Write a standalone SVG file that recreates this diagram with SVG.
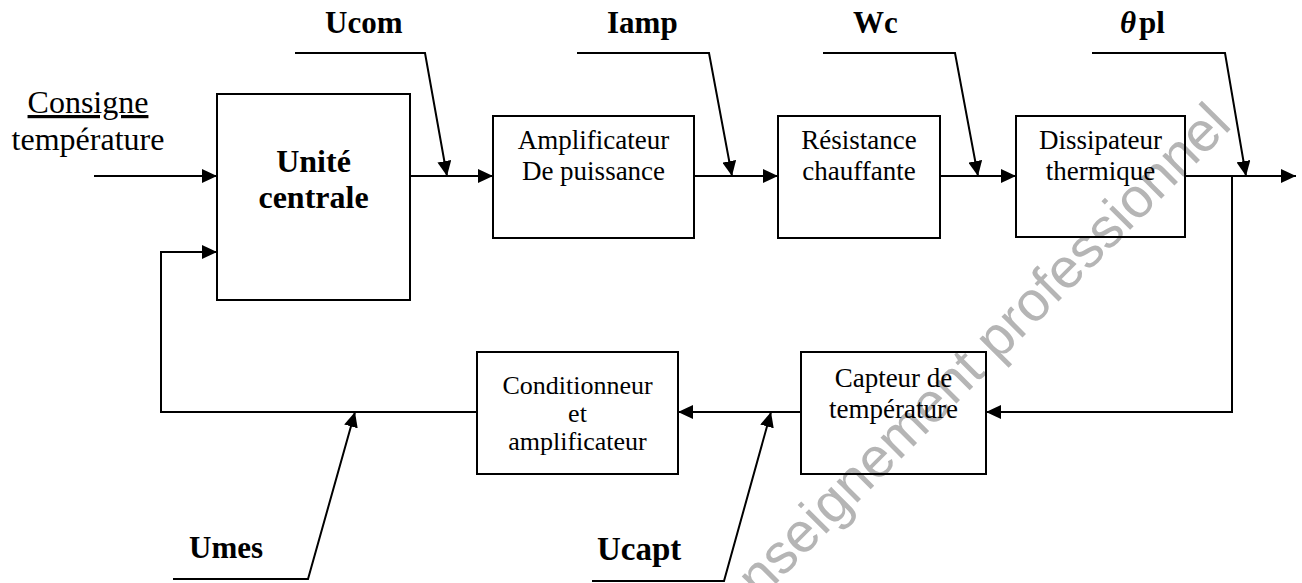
<svg xmlns="http://www.w3.org/2000/svg" width="1302" height="583" viewBox="0 0 1302 583">
<style>
.box{fill:none;stroke:#000;stroke-width:2}
.ln{fill:none;stroke:#000;stroke-width:2}
.t{font-family:"Liberation Serif","Times New Roman",serif;font-size:27px;fill:#000;text-anchor:middle}
.lb{font-family:"Liberation Serif","Times New Roman",serif;font-size:31px;font-weight:bold;fill:#000}
.wm{font-family:"Liberation Sans",Arial,sans-serif;font-size:56px;fill:#b5b5b5}
</style>
<defs>
<marker id="ah" markerUnits="userSpaceOnUse" markerWidth="15" markerHeight="14" refX="15" refY="7" orient="auto">
<path d="M0,0 L15,7 L0,14 z" fill="#000"/>
</marker>
</defs>
<rect width="1302" height="583" fill="#fff"/>
<text class="wm" transform="translate(738,622) rotate(-45)">enseignement professionnel</text>

<g id="consigne">
<text class="t" x="88" y="113" style="font-size:32px;text-decoration:underline">Consigne</text>
<text class="t" x="88" y="150" style="font-size:32px">température</text>
</g>
<g id="unite-centrale">
<rect class="box" x="217" y="94" width="193" height="206"/>
<text class="t" x="313.5" y="172" style="font-size:32px;font-weight:bold">Unité</text>
<text class="t" x="313.5" y="208" style="font-size:32px;font-weight:bold">centrale</text>
</g>
<g id="amplificateur">
<rect class="box" x="493" y="116" width="201" height="122"/>
<text class="t" x="593.5" y="149">Amplificateur</text>
<text class="t" x="593.5" y="180">De puissance</text>
</g>
<g id="resistance">
<rect class="box" x="778" y="116" width="162" height="122"/>
<text class="t" x="859" y="149">Résistance</text>
<text class="t" x="859" y="180">chauffante</text>
</g>
<g id="dissipateur">
<rect class="box" x="1016" y="116" width="169" height="121"/>
<text class="t" x="1100.5" y="149">Dissipateur</text>
<text class="t" x="1100.5" y="180">thermique</text>
</g>
<g id="capteur">
<rect class="box" x="801" y="352" width="185" height="122"/>
<text class="t" x="893.5" y="387">Capteur de</text>
<text class="t" x="893.5" y="418">température</text>
</g>
<g id="conditionneur">
<rect class="box" x="477" y="352" width="201" height="122"/>
<text class="t" x="577.5" y="394" style="font-size:26px">Conditionneur</text>
<text class="t" x="577.5" y="422" style="font-size:26px">et</text>
<text class="t" x="577.5" y="450" style="font-size:26px">amplificateur</text>
</g>
<g id="labels">
<text class="lb" x="325" y="33">Ucom</text>
<text class="lb" x="607" y="33">Iamp</text>
<text class="lb" x="853" y="33">Wc</text>
<text class="lb" x="1120" y="33"><tspan font-style="italic">θ</tspan><tspan dx="3">pl</tspan></text>
<text class="lb" x="189" y="558">Umes</text>
<text class="lb" x="597" y="560" style="font-size:33px">Ucapt</text>
</g>
<g id="connectors">
<line class="ln" x1="94" y1="176" x2="217" y2="176" marker-end="url(#ah)"/>
<line class="ln" x1="410" y1="176" x2="493" y2="176" marker-end="url(#ah)"/>
<line class="ln" x1="694" y1="176" x2="778" y2="176" marker-end="url(#ah)"/>
<line class="ln" x1="940" y1="176" x2="1016" y2="176" marker-end="url(#ah)"/>
<line class="ln" x1="1185" y1="176" x2="1296" y2="176" marker-end="url(#ah)"/>
<polyline class="ln" points="1232,176 1232,412 986,412" marker-end="url(#ah)"/>
<line class="ln" x1="801" y1="412" x2="678" y2="412" marker-end="url(#ah)"/>
<polyline class="ln" points="477,412 161,412 161,252 217,252" marker-end="url(#ah)"/>
<polyline class="ln" points="295,53 425,53 447,176" marker-end="url(#ah)"/>
<polyline class="ln" points="577,53 709,53 732,176" marker-end="url(#ah)"/>
<polyline class="ln" points="823,53 955,53 978,176" marker-end="url(#ah)"/>
<polyline class="ln" points="1092,53 1225,53 1246,176" marker-end="url(#ah)"/>
<polyline class="ln" points="173,579 308,579 355,412" marker-end="url(#ah)"/>
<polyline class="ln" points="592,581 724,581 771,412" marker-end="url(#ah)"/>
</g>
</svg>
